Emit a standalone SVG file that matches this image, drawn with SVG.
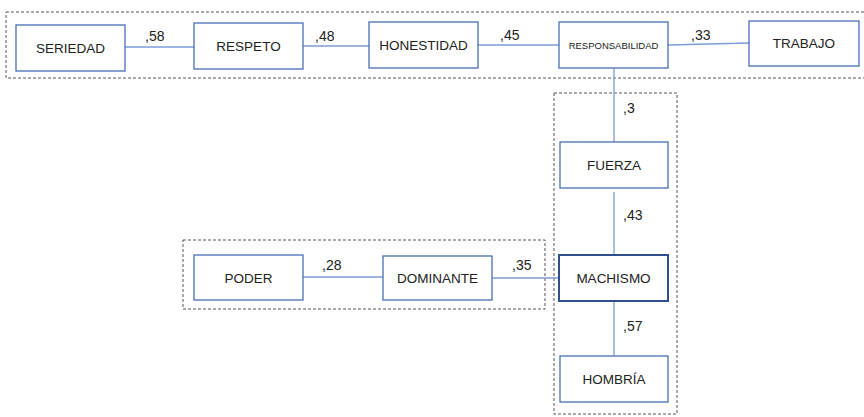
<svg xmlns="http://www.w3.org/2000/svg" width="864" height="417" viewBox="0 0 864 417">
<style>
.box{fill:#fff;stroke:#4a6fb5;stroke-width:1.3}
.strong{fill:#fff;stroke:#2f4f8f;stroke-width:2}
.grp{fill:none;stroke:#555;stroke-width:1;stroke-dasharray:3 2}
.ln{stroke:#7d9dd6;stroke-width:1.3;fill:none}
text{font-family:"Liberation Sans",Arial,sans-serif;font-size:13.5px;fill:#222}
.lbl{font-size:14px}
.c{text-anchor:middle}
.small{font-size:9.5px}
</style>
<rect width="864" height="417" fill="#fff"/>
<g id="groups">
<rect class="grp" x="6" y="12" width="862" height="66"/>
<rect class="grp" x="554" y="93" width="123" height="321"/>
<rect class="grp" x="183" y="240" width="362" height="69"/>
</g>
<g id="connectors">
<line class="ln" x1="125" y1="47" x2="194" y2="47"/>
<line class="ln" x1="303" y1="46" x2="369" y2="46"/>
<line class="ln" x1="478" y1="45" x2="559" y2="45"/>
<line class="ln" x1="668" y1="45" x2="749" y2="43"/>
<line class="ln" x1="614" y1="68" x2="614" y2="142"/>
<line class="ln" x1="614" y1="192" x2="614" y2="255"/>
<line class="ln" x1="614" y1="301" x2="614" y2="356"/>
<line class="ln" x1="303" y1="277" x2="383" y2="277"/>
<line class="ln" x1="492" y1="278" x2="559" y2="278"/>
<text class="lbl" x="145" y="41">,58</text>
<text class="lbl" x="315" y="41">,48</text>
<text class="lbl" x="500" y="40">,45</text>
<text class="lbl" x="691" y="40">,33</text>
<text class="lbl" x="623" y="113">,3</text>
<text class="lbl" x="623" y="220">,43</text>
<text class="lbl" x="623" y="331">,57</text>
<text class="lbl" x="322" y="270">,28</text>
<text class="lbl" x="512" y="270">,35</text>
</g>
<g id="seriedad"><rect class="box" x="16" y="25" width="109" height="46"/><text class="c" x="70.5" y="53">SERIEDAD</text></g>
<g id="respeto"><rect class="box" x="194" y="23" width="109" height="46"/><text class="c" x="248.5" y="51">RESPETO</text></g>
<g id="honestidad"><rect class="box" x="369" y="22" width="109" height="46"/><text class="c" x="423.5" y="50">HONESTIDAD</text></g>
<g id="responsabilidad"><rect class="box" x="559" y="22" width="109" height="46"/><text class="c small" x="613.5" y="49">RESPONSABILIDAD</text></g>
<g id="trabajo"><rect class="box" x="749" y="21" width="110" height="45"/><text class="c" x="804" y="48">TRABAJO</text></g>
<g id="fuerza"><rect class="box" x="560" y="142" width="108" height="46"/><text class="c" x="614" y="170">FUERZA</text></g>
<g id="machismo"><rect class="strong" x="559" y="255" width="109" height="46"/><text class="c" x="613.5" y="283">MACHISMO</text></g>
<g id="hombria"><rect class="box" x="560" y="356" width="108" height="46"/><text class="c" x="614" y="384">HOMBRÍA</text></g>
<g id="poder"><rect class="box" x="194" y="255" width="109" height="45"/><text class="c" x="248.5" y="283">PODER</text></g>
<g id="dominante"><rect class="box" x="383" y="256" width="109" height="44"/><text class="c" x="437.5" y="283">DOMINANTE</text></g>
</svg>
